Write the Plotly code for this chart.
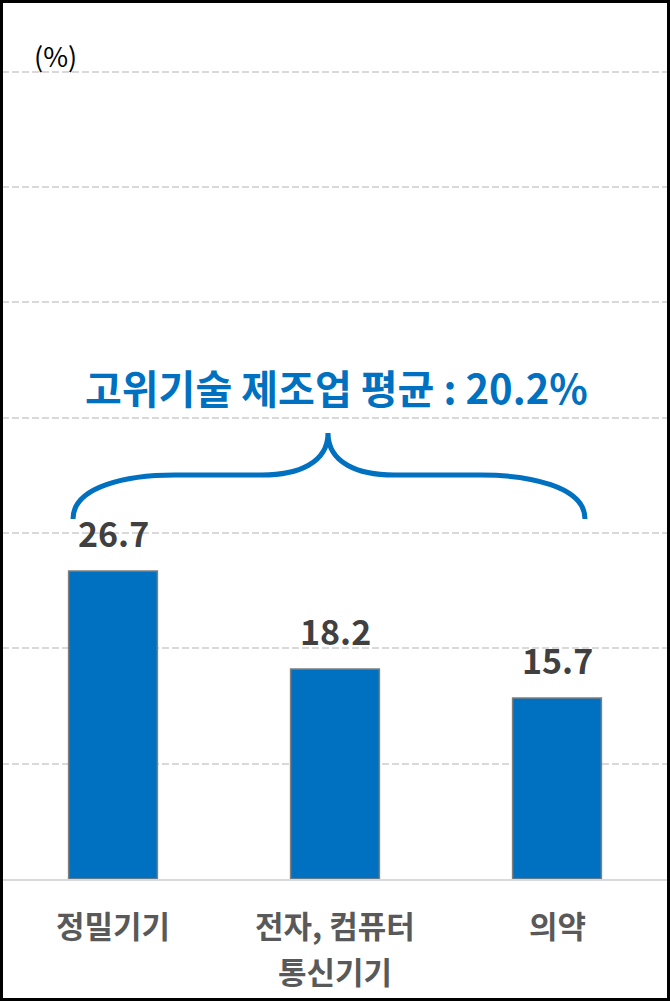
"""
High-tech manufacturing bar chart with average brace annotation
"""

import plotly.graph_objects as go

# =================================================================================================
#   DATA
# =================================================================================================

CATEGORIES = ["정밀기기", "전자, 컴퓨터<br>통신기기", "의약"]
VALUES = [26.7, 18.2, 15.7]
AVERAGE = 20.2
AVERAGE_LABEL = "고위기술 제조업 평균"
UNIT_LABEL = "(%)"

# =================================================================================================
#   CONSTANTS
# =================================================================================================

FONT = "Noto Sans CJK KR"
BLUE = "#0070C0"
W, H = 670, 1001
MARGIN = dict(l=2, r=2, t=14, b=122)
PLOT_W = W - MARGIN["l"] - MARGIN["r"]
PLOT_H = H - MARGIN["t"] - MARGIN["b"]


def px(x: float) -> float:
    # pixel x -> paper x
    return (x - MARGIN["l"]) / PLOT_W


def py(y: float) -> float:
    # pixel y -> paper y
    return (H - MARGIN["b"] - y) / PLOT_H


def brace_path() -> str:
    pts = [
        ("M", [(73, 519)]),
        ("C", [(73, 486), (128, 475), (175, 475)]),
        ("L", [(262, 475)]),
        ("C", [(298, 475), (328, 463), (328, 433)]),
        ("C", [(328, 463), (358, 475), (394, 475)]),
        ("L", [(481, 475)]),
        ("C", [(528, 475), (585, 486), (585, 519)]),
    ]
    parts = []
    for cmd, coords in pts:
        parts.append(cmd + " ".join(f"{px(x):.5f},{py(y):.5f}" for x, y in coords))
    return " ".join(parts)


# =================================================================================================
#   FIGURE
# =================================================================================================

fig = go.Figure(
    go.Bar(
        x=CATEGORIES,
        y=VALUES,
        width=0.4,
        marker=dict(color=BLUE, line=dict(color="#7F7F7F", width=1.5)),
        showlegend=False,
        hoverinfo="skip",
    )
)

# Value labels above bars
for cat, val in zip(CATEGORIES, VALUES):
    fig.add_annotation(
        x=cat,
        y=val,
        text=f"<b>{val:.1f}</b>",
        showarrow=False,
        yanchor="bottom",
        yshift=12,
        font=dict(family=FONT, size=34, color="#404040"),
    )

# Category labels below the axis (one annotation per line for wider line spacing)
for cat in CATEGORIES:
    for i, line in enumerate(cat.split("<br>")):
        fig.add_annotation(
            x=cat,
            xref="x",
            y=0,
            yref="paper",
            yanchor="middle",
            yshift=-45 - 46 * i,
            text=f"<b>{line}</b>",
            showarrow=False,
            font=dict(family=FONT, size=31, color="#595959"),
        )

# Average label and brace
fig.add_annotation(
    xref="paper",
    yref="paper",
    x=px(336),
    y=py(387),
    xanchor="center",
    yanchor="middle",
    text=f"<b>{AVERAGE_LABEL} : {AVERAGE}%</b>",
    showarrow=False,
    font=dict(family=FONT, size=40, color=BLUE),
)
fig.add_shape(
    type="path",
    xref="paper",
    yref="paper",
    path=brace_path(),
    line=dict(color=BLUE, width=5),
)

# Unit label
fig.add_annotation(
    xref="paper",
    yref="paper",
    x=px(55),
    y=py(55),
    xanchor="center",
    yanchor="middle",
    text=UNIT_LABEL,
    showarrow=False,
    font=dict(family=FONT, size=27, color="#000000"),
)

# Outer black frame
fig.add_shape(
    type="rect",
    xref="paper",
    yref="paper",
    x0=px(1.5),
    x1=px(W - 1.5),
    y0=py(H - 1.5),
    y1=py(1.5),
    line=dict(color="#000000", width=3),
    layer="above",
)

fig.update_layout(
    width=W,
    height=H,
    margin=MARGIN,
    paper_bgcolor="white",
    plot_bgcolor="white",
    font=dict(family=FONT),
    bargap=0.6,
    xaxis=dict(
        showline=True,
        linecolor="#D9D9D9",
        linewidth=2,
        ticks="",
        showticklabels=False,
        showgrid=False,
    ),
    yaxis=dict(
        range=[0, 75],
        dtick=10,
        showticklabels=False,
        showgrid=True,
        gridcolor="#D9D9D9",
        gridwidth=1.5,
        griddash="7px,3px",
        zeroline=False,
    ),
)

# Remove the default page margin so the figure fills the window
fig.write_html(
    "out.html",
    config={"displayModeBar": False},
    post_script="document.body.style.margin='0px';",
)
